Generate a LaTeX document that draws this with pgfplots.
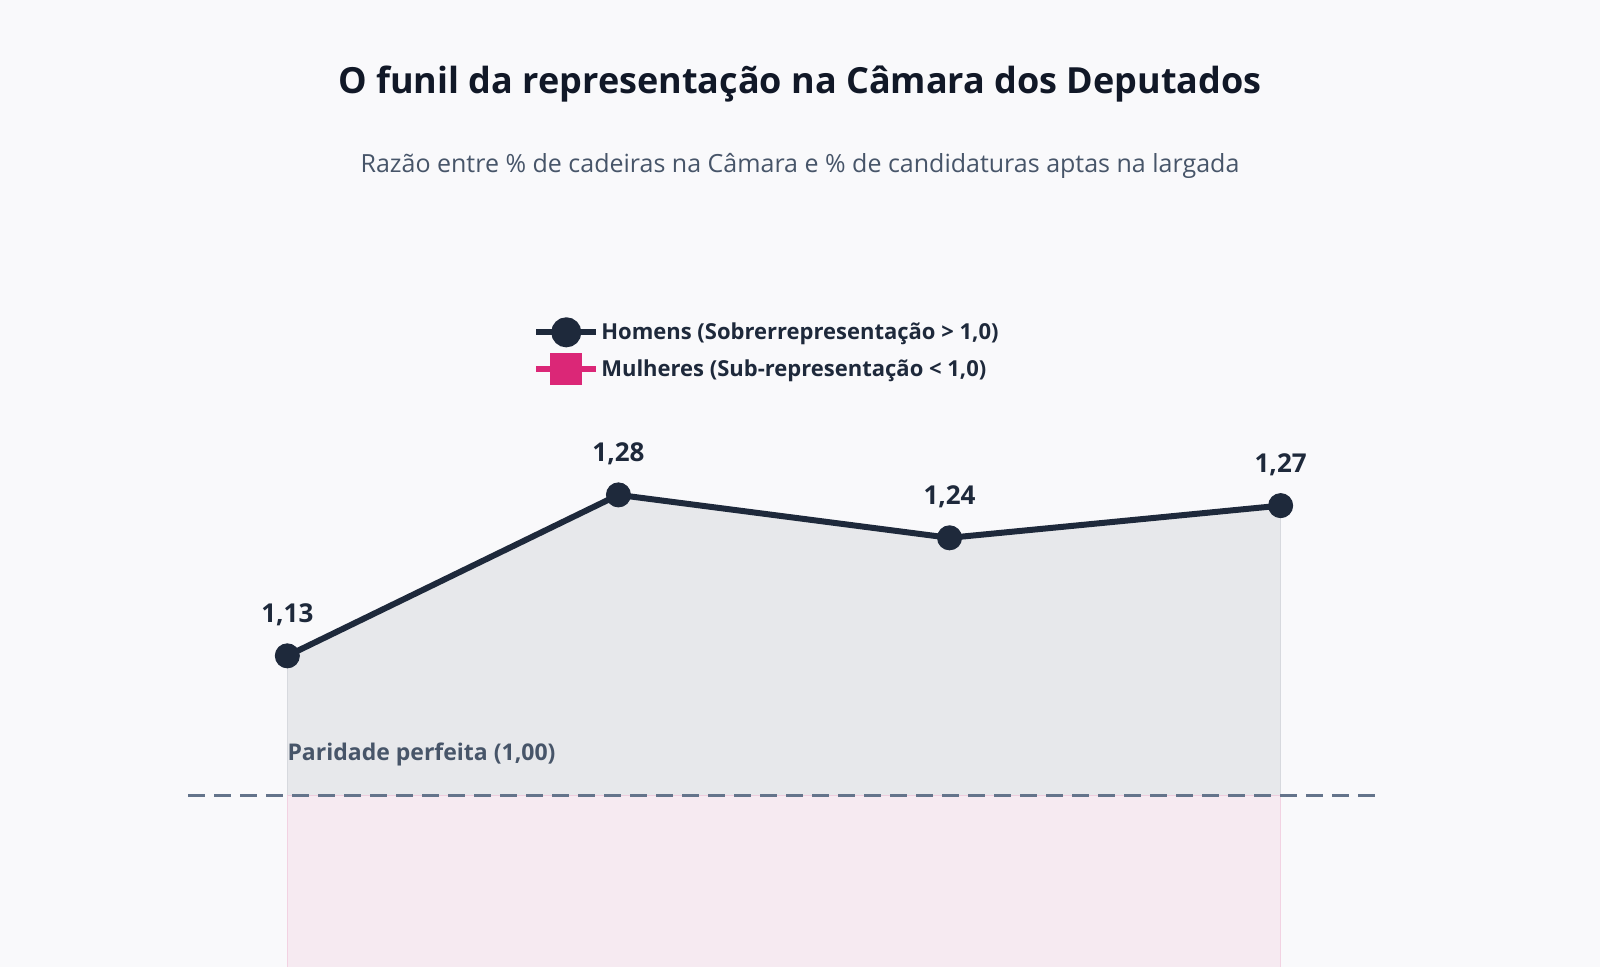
\documentclass[border=0pt]{standalone}
\usepackage{pgfplots}
\pgfplotsset{compat=1.18}
\usepackage{fontspec}
\setmainfont{Open Sans}
\definecolor{dark}{HTML}{1E293B}
\definecolor{pinkc}{HTML}{DB2777}
\definecolor{dashc}{HTML}{64748B}
\definecolor{labc}{HTML}{475569}
\definecolor{bg}{HTML}{F9F9FB}
\definecolor{titc}{HTML}{111827}
\begin{document}
\begin{tikzpicture}[x=1pt,y=1pt]
\fill[bg] (0,0) rectangle (1600,967);
\node[font=\fontsize{36}{42}\selectfont\bfseries, text=titc] at (800,883) {O funil da representação na Câmara dos Deputados};
\node[font=\fontsize{25}{30}\selectfont, text=labc] at (800,801) {Razão entre \% de cadeiras na Câmara e \% de candidaturas aptas na largada};
\begin{axis}[at={(188pt,0pt)}, anchor=south west, scale only axis,
  width=1192pt, height=654.5pt, xmin=-0.3, xmax=3.3, ymin=0.84, ymax=1.45,
  axis lines=none, ticks=none, clip=true,
  /pgf/number format/assume math mode=true,
  legend style={at={(0.287,0.996)}, anchor=north west, draw=none, fill=none,
    font=\fontsize{22}{26}\selectfont\bfseries, text=dark, row sep=6pt},
  legend cell align=left]
\addplot[draw=none, fill=dark, fill opacity=0.08, forget plot] coordinates {(0,1)(0,1.13)(1,1.28)(2,1.24)(3,1.27)(3,1)} -- cycle;
\addplot[draw=pinkc, draw opacity=0.12, fill=pinkc, fill opacity=0.07, forget plot] coordinates {(0,1)(3,1)(3,0.3)(0,0.3)} -- cycle;
\addplot[draw=dark, draw opacity=0.1, forget plot] coordinates {(0,1)(0,1.13)};
\addplot[draw=dark, draw opacity=0.1, forget plot] coordinates {(3,1)(3,1.27)};
\addplot[dashc, line width=3pt, dash pattern=on 17pt off 9pt, forget plot] coordinates {(-0.3,1)(3.3,1)};
\node[anchor=south west, font=\fontsize{23}{26}\selectfont\bfseries, text=labc, inner sep=0pt] at (axis cs:0,1.027) {Paridade perfeita (1,00)};
\addplot[dark, line width=6pt, mark=*, mark size=12pt, mark options={fill=dark, line width=1pt},
  legend image code/.code={\draw[dark, line width=6pt] (0pt,0pt) -- (60pt,0pt); \fill[dark] (30pt,0pt) circle (12pt);},
  nodes near coords={\textbf{\pgfmathprintnumber[fixed, fixed zerofill, precision=2, use comma]{\pgfplotspointmeta}}},
  every node near coord/.append style={font=\fontsize{26}{30}\selectfont\bfseries, text=dark, yshift=26pt}]
  coordinates {(0,1.13)(1,1.28)(2,1.24)(3,1.27)};
\addlegendentry{Homens (Sobrerrepresentação > 1,0)}
\addplot[pinkc, line width=6pt, mark=square*, mark size=11pt, mark options={fill=pinkc, line width=1pt},
  legend image code/.code={\draw[pinkc, line width=6pt] (0pt,0pt) -- (60pt,0pt); \fill[pinkc] (17pt,-13pt) rectangle (43pt,13pt);}]
  coordinates {(0,0.55)(1,0.48)(2,0.52)(3,0.50)};
\addlegendentry{Mulheres (Sub-representação < 1,0)}
\end{axis}
\pgfresetboundingbox
\useasboundingbox (0,0) rectangle (1600,967);
\end{tikzpicture}
\end{document}
